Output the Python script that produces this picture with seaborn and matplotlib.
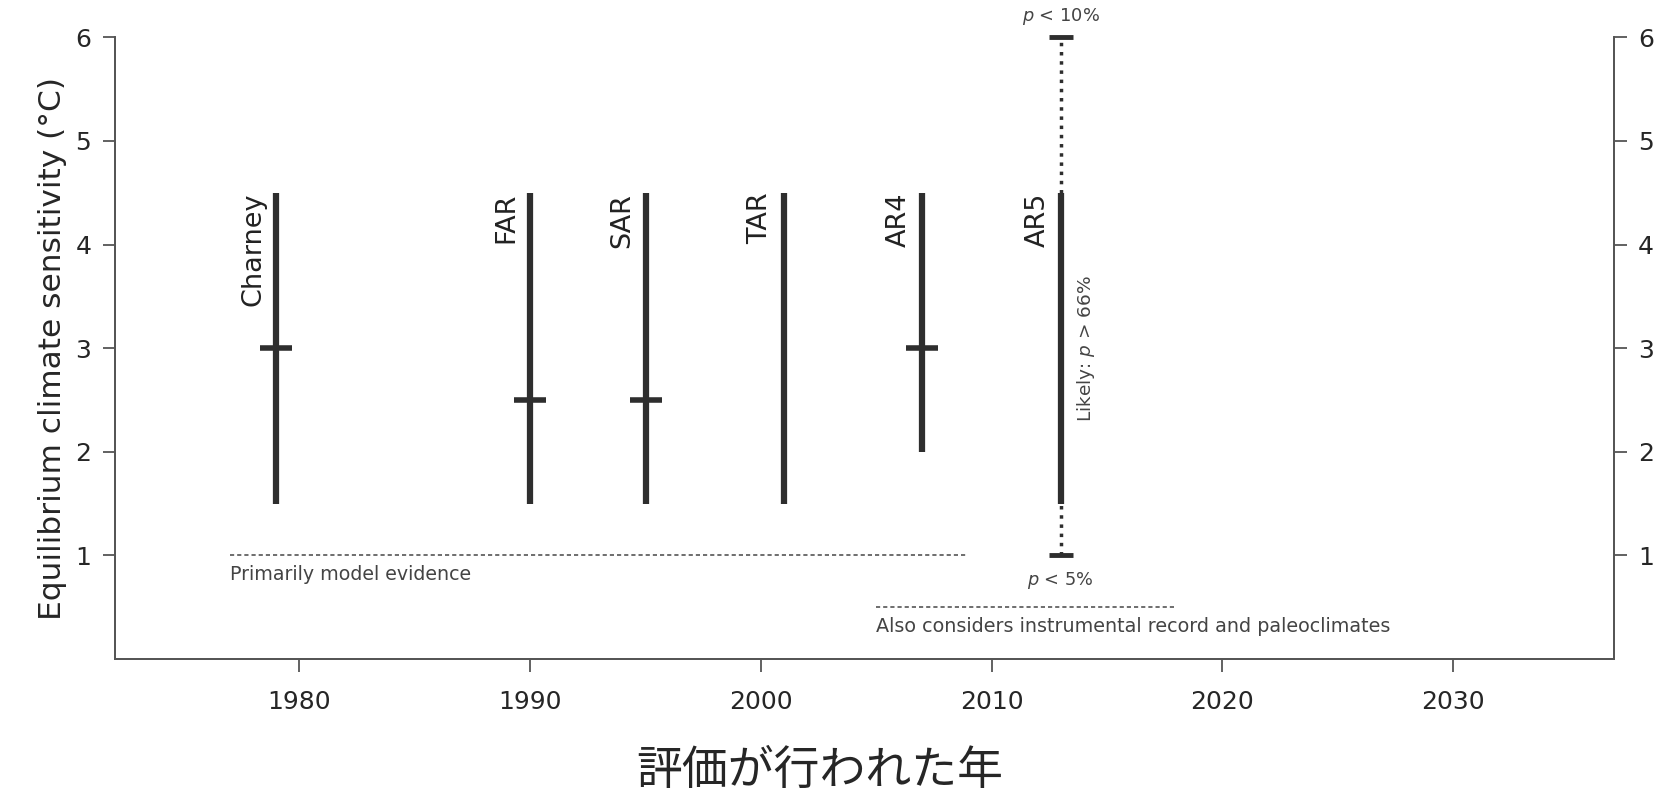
import matplotlib
matplotlib.use("Agg")
import matplotlib.pyplot as plt
import seaborn as sns
import pandas as pd

# Assessment data
reports = ["Charney", "FAR", "SAR", "TAR", "AR4", "AR5"]
years = [1979, 1990, 1995, 2001, 2007, 2013]
low = [1.5, 1.5, 1.5, 1.5, 2.0, 1.5]
high = [4.5, 4.5, 4.5, 4.5, 4.5, 4.5]
best = [3.0, 2.5, 2.5, None, 3.0, None]

# AR5 extended ranges
ar5_year = 2013
ar5_p5 = 1.0
ar5_p10 = 6.0

# Evidence period lines
model_span = [1977, 2009]
model_level = 1.0
instr_span = [2005, 2018]
instr_level = 0.5

color = "#2e2e2e"
note_color = "#444444"

sns.set_style("ticks")
plt.rcParams["font.family"] = ["DejaVu Sans", "Noto Sans CJK JP"]

fig = plt.figure(figsize=(16.66, 7.95), dpi=100)
ax = fig.add_axes([0.069, 0.171, 0.9, 0.782])

# Likely ranges
ax.vlines(years, low, high, colors=color, linewidth=4.5)

# Best estimates
df_best = pd.DataFrame({"year": years, "best": best}).dropna()
sns.scatterplot(data=df_best, x="year", y="best", marker="_", s=560,
                linewidth=4, color=color, ax=ax, zorder=3)

# AR5 dotted extension with caps
ax.plot([ar5_year, ar5_year], [ar5_p5, low[-1]], linestyle=":", color=color, linewidth=2.5)
ax.plot([ar5_year, ar5_year], [high[-1], ar5_p10], linestyle=":", color=color, linewidth=2.5)
ax.scatter([ar5_year, ar5_year], [ar5_p5, ar5_p10], marker="_", s=300, linewidths=3.5,
           color=color, zorder=3, clip_on=False)

# Report labels
for name, yr, hi in zip(reports, years, high):
    ax.text(yr - 0.45, hi, name, rotation=90, ha="right", va="top", fontsize=19.5, color="#222222")

ax.text(ar5_year + 0.6, 3.0, "Likely: $p$ > 66%", rotation=90, ha="left", va="center",
        fontsize=13.3, color=note_color)
ax.text(ar5_year, 6.1, "$p$ < 10%", ha="center", va="bottom", fontsize=12.8, color=note_color)
ax.text(ar5_year, 0.86, "$p$ < 5%", ha="center", va="top", fontsize=12.8, color=note_color)

# Evidence lines
ax.plot(model_span, [model_level, model_level], linestyle="--", color="#555555", linewidth=1.2,
        dashes=(2.5, 1.8))
ax.text(model_span[0], model_level - 0.09, "Primarily model evidence", ha="left", va="top",
        fontsize=13.7, color=note_color)
ax.plot(instr_span, [instr_level, instr_level], linestyle="--", color="#555555", linewidth=1.2,
        dashes=(2.5, 1.8))
ax.text(instr_span[0], instr_level - 0.09, "Also considers instrumental record and paleoclimates",
        ha="left", va="top", fontsize=13.8, color=note_color)

ax.set_xlim(1972, 2037)
ax.set_ylim(0, 6)
ax.set_xticks([1980, 1990, 2000, 2010, 2020, 2030])
ax.set_yticks([1, 2, 3, 4, 5, 6])
ax.set_xlabel("評価が行われた年", fontsize=33, family=["Noto Sans CJK JP"])
ax.xaxis.set_label_coords(0.47, -0.141)
ax.set_ylabel("Equilibrium climate sensitivity (°C)", fontsize=22.5, labelpad=6)
ax.tick_params(axis="both", labelsize=18, length=9, width=1.3, color="#555555", pad=8)
ax.tick_params(axis="x", pad=13)
for side in ["left", "bottom", "right"]:
    ax.spines[side].set_color("#555555")
    ax.spines[side].set_linewidth(1.3)
ax.spines["top"].set_visible(False)

# Right axis mirror
ax2 = ax.twinx()
ax2.set_ylim(0, 6)
ax2.set_yticks([1, 2, 3, 4, 5, 6])
ax2.tick_params(axis="y", labelsize=18, length=9, width=1.3, color="#555555", pad=8)
ax2.spines["top"].set_visible(False)
for side in ["left", "bottom", "right"]:
    ax2.spines[side].set_color("#555555")
    ax2.spines[side].set_linewidth(1.3)

fig.savefig("out.png", dpi=100)
